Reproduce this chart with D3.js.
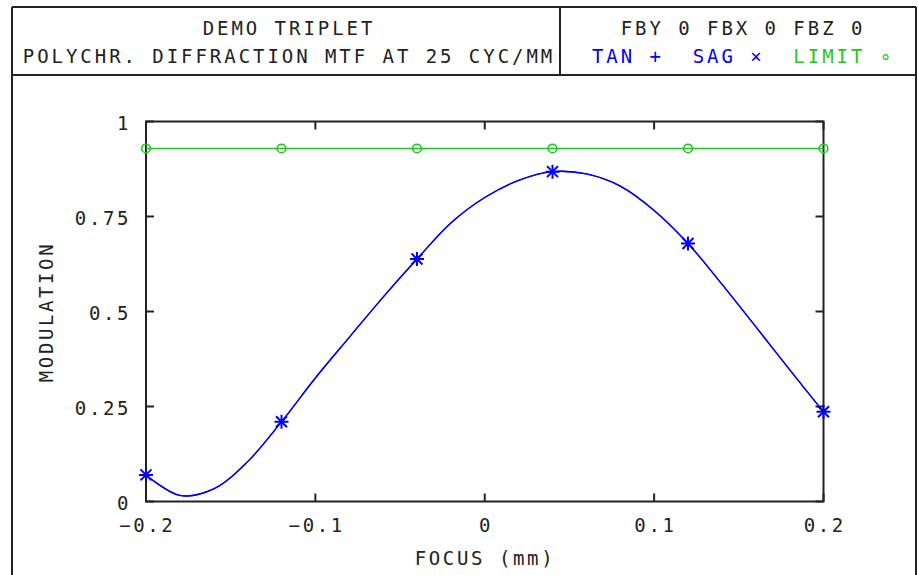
<!DOCTYPE html>
<html>
<head>
<meta charset="utf-8">
<script src="https://cdn.jsdelivr.net/npm/d3@7"></script>
<style>
  html, body { margin: 0; padding: 0; background: #fff; }
  svg { display: block; }
  text { font-family: "DejaVu Sans Mono", monospace; fill: #222; }
</style>
</head>
<body>
<svg id="chart" width="918" height="575"></svg>
<script>
// ---- data ----
const titleLines = ["DEMO TRIPLET", "POLYCHR. DIFFRACTION MTF AT 25 CYC/MM"];
const fieldLine = "FBY 0 FBX 0 FBZ 0";
const xTicks = [-0.2, -0.1, 0, 0.1, 0.2];
const xTickLabels = ["\u22120.2", "\u22120.1", "0", "0.1", "0.2"];
const yTicks = [0, 0.25, 0.5, 0.75, 1];
const yTickLabels = ["0", "0.25", "0.5", "0.75", "1"];
const curveFocus = [-0.20, -0.18, -0.16, -0.14, -0.12, -0.10, -0.08, -0.06, -0.04, -0.02, 0.00,
                    0.02, 0.04, 0.06, 0.08, 0.10, 0.12, 0.14, 0.16, 0.18, 0.20];
const tanCurve = [0.070, 0.016, 0.033, 0.105, 0.210, 0.325, 0.432, 0.538, 0.638, 0.733, 0.800,
                  0.845, 0.868, 0.862, 0.830, 0.766, 0.679, 0.572, 0.460, 0.347, 0.236];
const sagCurve = [0.070, 0.016, 0.033, 0.105, 0.210, 0.325, 0.432, 0.538, 0.638, 0.733, 0.800,
                  0.845, 0.868, 0.862, 0.830, 0.766, 0.679, 0.572, 0.460, 0.347, 0.236];
const markerFocus = [-0.20, -0.12, -0.04, 0.04, 0.12, 0.20];
const tanPoints = [0.070, 0.210, 0.638, 0.868, 0.679, 0.236];
const sagPoints = [0.070, 0.210, 0.638, 0.868, 0.679, 0.236];
const limitPoints = [0.929, 0.929, 0.929, 0.929, 0.929, 0.929];

const BLUE = "#0000ff", GREEN = "#22c822", INK = "#222";

const svg = d3.select("#chart");
svg.append("rect").attr("width", 918).attr("height", 575).attr("fill", "#fff");

// ---- header frame ----
const frame = svg.append("g").attr("stroke", INK).attr("stroke-width", 2).attr("fill", "none");
frame.append("line").attr("x1", 12).attr("y1", 7).attr("x2", 916).attr("y2", 7);
frame.append("line").attr("x1", 12).attr("y1", 75).attr("x2", 916).attr("y2", 75);
frame.append("line").attr("x1", 12).attr("y1", 7).attr("x2", 12).attr("y2", 580);
frame.append("line").attr("x1", 916).attr("y1", 7).attr("x2", 916).attr("y2", 580);
frame.append("line").attr("x1", 560).attr("y1", 7).attr("x2", 560).attr("y2", 75);

const hdr = svg.append("g").attr("font-size", 19).attr("letter-spacing", 2.95).attr("text-anchor", "middle");
hdr.append("text").attr("x", 289).attr("y", 35).text(titleLines[0]);
hdr.append("text").attr("x", 289).attr("y", 63).text(titleLines[1]);
hdr.append("text").attr("x", 743).attr("y", 35).text(fieldLine);
const leg = hdr.append("text").attr("x", 743).attr("y", 63).attr("xml:space", "preserve");
leg.append("tspan").attr("fill", BLUE).text("TAN +  SAG \u00d7  ");
leg.append("tspan").attr("fill", GREEN).text("LIMIT \u2218");

// ---- scales ----
const x = d3.scaleLinear().domain([-0.2, 0.2]).range([146, 823.5]);
const y = d3.scaleLinear().domain([0, 1]).range([501.5, 121.5]);

// ---- axes box with inward ticks ----
const tl = 8;
const ax = svg.append("g").attr("stroke", INK).attr("stroke-width", 2).attr("fill", "none");
ax.append("rect").attr("x", x(-0.2)).attr("y", y(1)).attr("width", x(0.2) - x(-0.2)).attr("height", y(0) - y(1));
xTicks.forEach(t => {
  ax.append("line").attr("x1", x(t)).attr("x2", x(t)).attr("y1", y(0)).attr("y2", y(0) - tl);
  ax.append("line").attr("x1", x(t)).attr("x2", x(t)).attr("y1", y(1)).attr("y2", y(1) + tl);
});
yTicks.forEach(t => {
  ax.append("line").attr("x1", x(-0.2)).attr("x2", x(-0.2) + tl).attr("y1", y(t)).attr("y2", y(t));
  ax.append("line").attr("x1", x(0.2)).attr("x2", x(0.2) - tl).attr("y1", y(t)).attr("y2", y(t));
});

const lab = svg.append("g").attr("font-size", 19).attr("letter-spacing", 2.6);
xTicks.forEach((t, i) => {
  lab.append("text").attr("x", x(t) + 1.3).attr("y", 532).attr("text-anchor", "middle").text(xTickLabels[i]);
});
yTicks.forEach((t, i) => {
  lab.append("text").attr("x", 131).attr("y", y(t) + 8).attr("text-anchor", "end").text(yTickLabels[i]);
});
lab.append("text").attr("x", 485).attr("y", 565).attr("text-anchor", "middle").text("FOCUS (mm)");
lab.append("text").attr("transform", "translate(53,312) rotate(-90)").attr("text-anchor", "middle").text("MODULATION");

// ---- series ----
const line = d3.line().x(d => x(d[0])).y(d => y(d[1])).curve(d3.curveCatmullRom.alpha(0.5));
const straight = d3.line().x(d => x(d[0])).y(d => y(d[1]));

svg.append("path").datum(markerFocus.map((f, i) => [f, limitPoints[i]]))
  .attr("d", straight).attr("fill", "none").attr("stroke", GREEN).attr("stroke-width", 1.6);
svg.append("path").datum(curveFocus.map((f, i) => [f, sagCurve[i]]))
  .attr("d", line).attr("fill", "none").attr("stroke", BLUE).attr("stroke-width", 1.3);
svg.append("path").datum(curveFocus.map((f, i) => [f, tanCurve[i]]))
  .attr("d", line).attr("fill", "none").attr("stroke", BLUE).attr("stroke-width", 1.3);

// limit markers (small circles)
svg.append("g").selectAll("circle").data(markerFocus.map((f, i) => [f, limitPoints[i]])).join("circle")
  .attr("cx", d => x(d[0])).attr("cy", d => y(d[1])).attr("r", 4.3)
  .attr("fill", "none").attr("stroke", GREEN).attr("stroke-width", 1.6);

// TAN markers (+) and SAG markers (x)
const plusSym = d3.symbol().type({draw(ctx) { const r = 7; ctx.moveTo(-r, 0); ctx.lineTo(r, 0); ctx.moveTo(0, -r); ctx.lineTo(0, r); }});
const crossSym = d3.symbol().type({draw(ctx) { const r = 5.5; ctx.moveTo(-r, -r); ctx.lineTo(r, r); ctx.moveTo(-r, r); ctx.lineTo(r, -r); }});
svg.append("g").selectAll("path").data(markerFocus.map((f, i) => [f, tanPoints[i]])).join("path")
  .attr("transform", d => `translate(${x(d[0])},${y(d[1])})`).attr("d", plusSym())
  .attr("fill", "none").attr("stroke", BLUE).attr("stroke-width", 2);
svg.append("g").selectAll("path").data(markerFocus.map((f, i) => [f, sagPoints[i]])).join("path")
  .attr("transform", d => `translate(${x(d[0])},${y(d[1])})`).attr("d", crossSym())
  .attr("fill", "none").attr("stroke", BLUE).attr("stroke-width", 2);
</script>
</body>
</html>
